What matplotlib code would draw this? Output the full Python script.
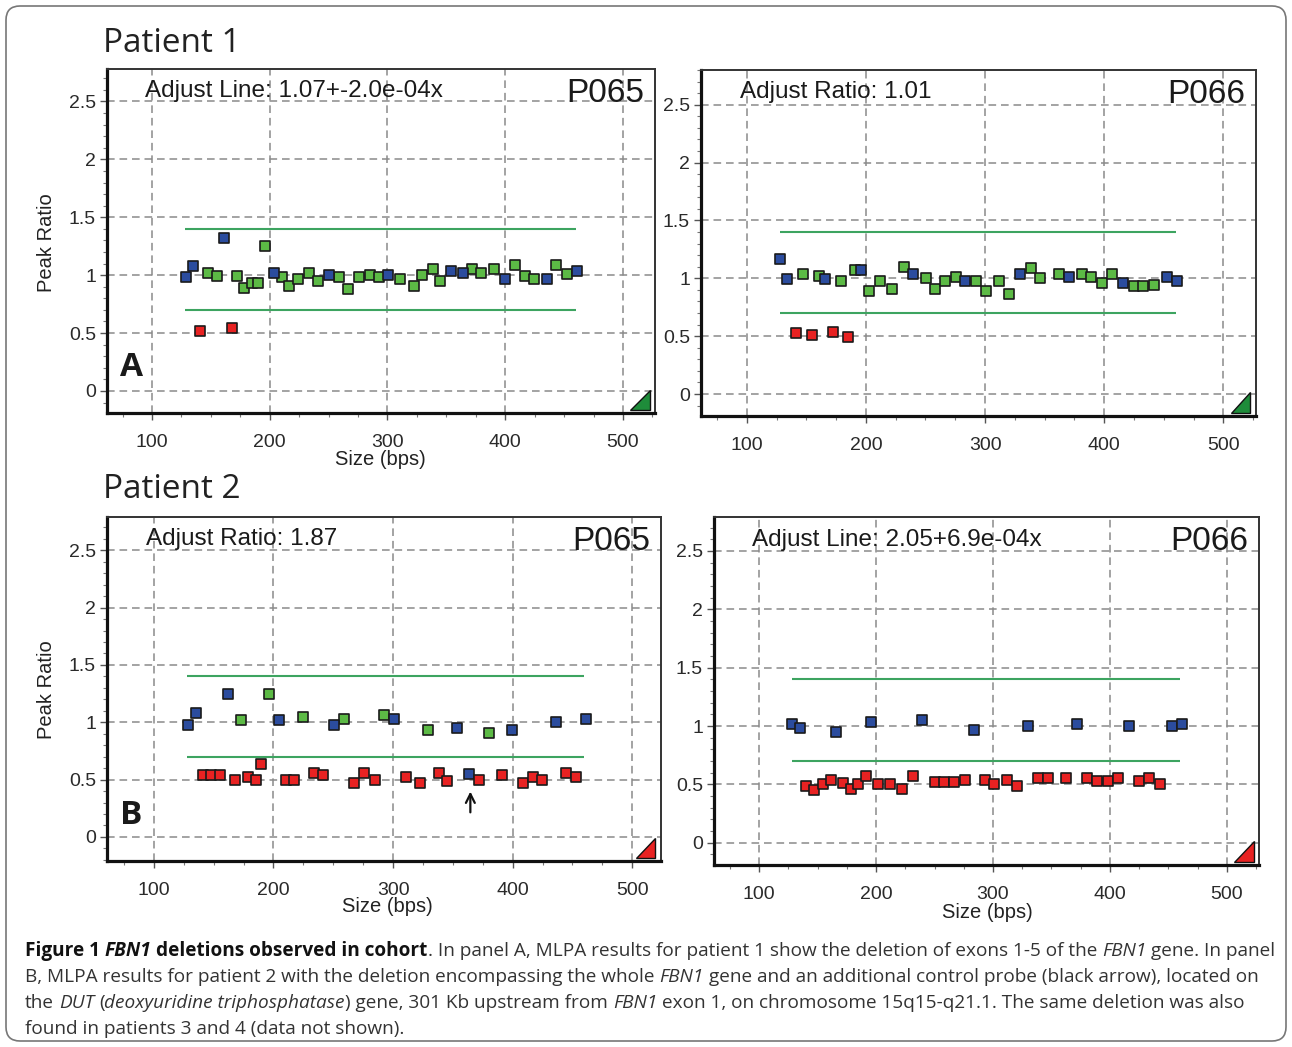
import matplotlib
matplotlib.use('Agg')
import matplotlib.pyplot as plt
from matplotlib.patches import Polygon, FancyBboxPatch
from matplotlib.ticker import FixedLocator, MultipleLocator
from matplotlib.transforms import IdentityTransform

plt.rcParams['lines.scale_dashes'] = False

W, H = 1292, 1047

# ---------------- data ----------------
x_ticks = [100, 200, 300, 400, 500]
y_ticks = [0, 0.5, 1, 1.5, 2, 2.5]
y_tick_labels = ['0', '0.5', '1', '1.5', '2', '2.5']
thresh_low, thresh_high = 0.7, 1.4
thresh_xmin, thresh_xmax = 128, 460

# Patient 1, P065
p1a_blue_x = [128.8, 135, 161.3, 203.7, 250.6, 300.6, 354, 363.8, 399.7, 435.9, 460.7]
p1a_blue_y = [0.98, 1.08, 1.32, 1.02, 1.0, 1.0, 1.035, 1.015, 0.965, 0.965, 1.035]
p1a_green_x = [147.2, 154.8, 172.3, 178.5, 184.6, 190.4, 196.3, 210.2, 216.4, 224.3, 233.3,
               241.3, 258.5, 266.1, 275.7, 285.3, 293.2, 310.4, 322.6, 329.1, 338.4, 344.7,
               371.5, 379.4, 390.1, 408.5, 417, 424.6, 443.5, 452.8]
p1a_green_y = [1.015, 0.99, 0.99, 0.89, 0.93, 0.93, 1.25, 0.98, 0.91, 0.965, 1.02,
               0.95, 0.98, 0.88, 0.98, 1.0, 0.98, 0.965, 0.91, 1.0, 1.05, 0.95,
               1.05, 1.02, 1.05, 1.09, 0.99, 0.965, 1.09, 1.01]
p1a_red_x = [140.7, 168]
p1a_red_y = [0.52, 0.54]

# Patient 1, P066
p1b_blue_x = [127.9, 134, 165.8, 196, 239.5, 283.4, 329.5, 370.8, 415.4, 453.1, 461.5]
p1b_blue_y = [1.17, 0.99, 0.99, 1.07, 1.035, 0.98, 1.035, 1.015, 0.96, 1.015, 0.98]
p1b_green_x = [146.9, 160.3, 178.7, 190.5, 202.4, 211.6, 222, 231.7, 250.8, 258.3, 266.7,
               275.3, 292.6, 301, 312.1, 319.9, 338.4, 346.2, 361.8, 381.1, 388.9, 398.2,
               406.5, 424.6, 432.7, 442]
p1b_green_y = [1.035, 1.02, 0.98, 1.07, 0.89, 0.98, 0.91, 1.10, 1.0, 0.91, 0.98,
               1.015, 0.98, 0.89, 0.98, 0.86, 1.09, 1.0, 1.035, 1.035, 1.015, 0.96,
               1.035, 0.93, 0.93, 0.945]
p1b_red_x = [141, 155, 172, 184.8]
p1b_red_y = [0.53, 0.51, 0.535, 0.49]

# Patient 2, P065
p2a_blue_x = [128.3, 135.3, 161.9, 204.6, 250.6, 300.8, 353.7, 363.5, 399.5, 436.1, 461.1]
p2a_blue_y = [0.98, 1.085, 1.25, 1.02, 0.98, 1.03, 0.95, 0.55, 0.93, 1.0, 1.03]
p2a_green_x = [173, 196.5, 224.5, 258.9, 292.8, 329.4, 379.9]
p2a_green_y = [1.02, 1.25, 1.05, 1.03, 1.065, 0.93, 0.91]
p2a_red_x = [141.1, 148, 155.2, 168, 179, 185.7, 189.6, 210.1, 216.8, 233.7, 241.4, 267,
             275.9, 285, 310.5, 322.7, 338.5, 345.2, 371.8, 390.7, 409, 416.7, 424.5,
             444.2, 453.3]
p2a_red_y = [0.54, 0.54, 0.54, 0.50, 0.52, 0.50, 0.64, 0.50, 0.50, 0.56, 0.54, 0.47,
             0.56, 0.50, 0.52, 0.47, 0.56, 0.49, 0.50, 0.54, 0.47, 0.52, 0.50,
             0.56, 0.52]
p2a_arrow_x = 364.6
p2a_arrow_y = (0.19, 0.42)

# Patient 2, P066
p2b_blue_x = [128.5, 134.8, 165.6, 195.8, 239.7, 283.7, 329.8, 371.5, 415.9, 453, 461.3]
p2b_blue_y = [1.02, 0.985, 0.95, 1.035, 1.05, 0.97, 1.0, 1.02, 1.0, 1.0, 1.02]
p2b_green_x = []
p2b_green_y = []
p2b_red_x = [140.5, 147, 154.7, 161.6, 171.9, 178.7, 185, 191.3, 202.1, 211.8, 222.1, 232,
             250.6, 258.5, 266.8, 276, 293.1, 301, 312.1, 320.1, 338.9, 346.6, 362.3,
             380.6, 388.9, 398.3, 406.5, 425.1, 433, 442.8]
p2b_red_y = [0.483, 0.456, 0.5, 0.535, 0.512, 0.465, 0.5, 0.57, 0.5, 0.5, 0.465, 0.57,
             0.517, 0.517, 0.517, 0.535, 0.535, 0.5, 0.535, 0.483, 0.553, 0.553, 0.553,
             0.553, 0.53, 0.53, 0.553, 0.53, 0.553, 0.5]

BLUE = '#2B4C9E'
GREEN = '#5CBA45'
RED = '#E82222'
LINE_GREEN = '#3DA460'

fig = plt.figure(figsize=(W / 100, H / 100), dpi=100)


def fx(px):
    return px / W


def fy(py):
    return 1 - py / H


panels = [
    dict(rect=(107, 69, 655, 413), xlim=(61.8, 527.2), ylim=(-0.19, 2.78),
         blue=(p1a_blue_x, p1a_blue_y), green=(p1a_green_x, p1a_green_y), red=(p1a_red_x, p1a_red_y),
         note='Adjust Line: 1.07+-2.0e-04x', probe='P065', tri='#1E8C3A'),
    dict(rect=(701, 70, 1256, 416), xlim=(61.6, 527.4), ylim=(-0.19, 2.80),
         blue=(p1b_blue_x, p1b_blue_y), green=(p1b_green_x, p1b_green_y), red=(p1b_red_x, p1b_red_y),
         note='Adjust Ratio: 1.01', probe='P066', tri='#1E8C3A'),
    dict(rect=(107, 517, 661, 861), xlim=(60.8, 524.0), ylim=(-0.21, 2.79),
         blue=(p2a_blue_x, p2a_blue_y), green=(p2a_green_x, p2a_green_y), red=(p2a_red_x, p2a_red_y),
         note='Adjust Ratio: 1.87', probe='P065', tri='#E82222'),
    dict(rect=(714, 517, 1259, 865), xlim=(61.5, 527.4), ylim=(-0.19, 2.79),
         blue=(p2b_blue_x, p2b_blue_y), green=(p2b_green_x, p2b_green_y), red=(p2b_red_x, p2b_red_y),
         note='Adjust Line: 2.05+6.9e-04x', probe='P066', tri='#E82222'),
]

SANS = ['Liberation Sans', 'DejaVu Sans']
axes = []
for p in panels:
    l, t, r, b = p['rect']
    ax = fig.add_axes([fx(l), fy(b), (r - l) / W, (b - t) / H])
    axes.append(ax)
    ax.set_xlim(*p['xlim'])
    ax.set_ylim(*p['ylim'])
    ax.xaxis.set_major_locator(FixedLocator(x_ticks))
    ax.xaxis.set_minor_locator(MultipleLocator(25))
    ax.yaxis.set_major_locator(FixedLocator(y_ticks))
    ax.yaxis.set_minor_locator(MultipleLocator(0.1))
    ax.set_yticklabels(y_tick_labels)
    ax.set_xticklabels([str(v) for v in x_ticks])
    for lab in ax.get_xticklabels() + ax.get_yticklabels():
        lab.set_fontfamily(SANS)
        lab.set_fontsize(14)
        lab.set_color('#2a2a2a')
    ax.tick_params(axis='x', which='major', direction='out', length=5, width=1, color='#555',
                   pad=10)
    ax.tick_params(axis='y', which='major', direction='out', length=5, width=1, color='#555',
                   pad=3)
    ax.tick_params(which='minor', direction='out', length=3, width=0.8, color='#777')
    ax.grid(True, which='major', color='#8a8a8a', linestyle=(0, (5.5, 3.5)), linewidth=1.1)
    ax.set_axisbelow(True)
    for side in ['left', 'bottom']:
        ax.spines[side].set_linewidth(2.3)
        ax.spines[side].set_color('#111')
    for side in ['top', 'right']:
        ax.spines[side].set_linewidth(1.4)
        ax.spines[side].set_color('#333')

    ax.hlines([thresh_low, thresh_high], thresh_xmin, thresh_xmax, colors=LINE_GREEN,
              linewidth=1.5, zorder=2)
    for key, col in (('green', GREEN), ('blue', BLUE), ('red', RED)):
        xs, ys = p[key]
        if len(xs):
            ax.scatter(xs, ys, marker='s', s=50, c=col, edgecolors='#1a1a1a',
                       linewidths=1.2, zorder=3)

    ax.text(0.07, 0.935, p['note'], transform=ax.transAxes, ha='left', va='center',
            fontsize=17.5, family=SANS, color='#1a1a1a')
    ax.text(0.98, 0.93, p['probe'], transform=ax.transAxes, ha='right', va='center',
            fontsize=24, family=SANS, color='#1a1a1a')
    tri = Polygon([(0.955, 0.008), (0.99, 0.008), (0.99, 0.068)], closed=True,
                  transform=ax.transAxes, facecolor=p['tri'], edgecolor='#111',
                  linewidth=1.0, zorder=5, clip_on=False)
    ax.add_patch(tri)

# arrow in patient 2 P065 panel
axes[2].annotate('', xy=(p2a_arrow_x, p2a_arrow_y[1]), xytext=(p2a_arrow_x, p2a_arrow_y[0]),
                 arrowprops=dict(arrowstyle='->', lw=1.6, color='#111', mutation_scale=16),
                 zorder=6)

# figure texts
HEAD = ['Open Sans', 'DejaVu Sans']
fig.text(fx(103), fy(44), 'Patient 1', fontsize=24, family=HEAD, color='#222',
         ha='left', va='center')
fig.text(fx(103), fy(490), 'Patient 2', fontsize=24, family=HEAD, color='#222',
         ha='left', va='center')
fig.text(fx(132), fy(367), 'A', fontsize=24, family=HEAD, weight='bold', color='#1a1a1a',
         ha='center', va='center')
fig.text(fx(131), fy(816), 'B', fontsize=24, family=HEAD, weight='bold', color='#1a1a1a',
         ha='center', va='center')
for (xc, yc) in [(46, 243), (46, 690)]:
    fig.text(fx(xc), fy(yc), 'Peak Ratio', fontsize=14.5, family=SANS, rotation=90,
             ha='center', va='center', color='#222')
for (xc, yc) in [(380, 460), (387, 907), (987, 912)]:
    fig.text(fx(xc), fy(yc), 'Size (bps)', fontsize=14.5, family=SANS,
             ha='center', va='center', color='#222')

# rounded border
border = FancyBboxPatch((6, H - 1041), 1280, 1035, boxstyle='round,pad=0,rounding_size=14',
                        transform=IdentityTransform(), fill=False, edgecolor='#777',
                        linewidth=1.2)
fig.patches.append(border)

# caption with mixed styles
caption_lines = [
    [("Figure 1 ", 'bold', 'normal'), ("FBN1", 'bold', 'italic'),
     (" deletions observed in cohort", 'bold', 'normal'),
     (". In panel A, MLPA results for patient 1 show the deletion of exons 1-5 of the ", 'normal', 'normal'),
     ("FBN1", 'normal', 'italic'), (" gene. In panel", 'normal', 'normal')],
    [("B, MLPA results for patient 2 with the deletion encompassing the whole ", 'normal', 'normal'),
     ("FBN1", 'normal', 'italic'),
     (" gene and an additional control probe (black arrow), located on", 'normal', 'normal')],
    [("the ", 'normal', 'normal'), ("DUT", 'normal', 'italic'), (" (", 'normal', 'normal'),
     ("deoxyuridine triphosphatase", 'normal', 'italic'),
     (") gene, 301 Kb upstream from ", 'normal', 'normal'), ("FBN1", 'normal', 'italic'),
     (" exon 1, on chromosome 15q15-q21.1. The same deletion was also", 'normal', 'normal')],
    [("found in patients 3 and 4 (data not shown).", 'normal', 'normal')],
]
line_y = [951, 977, 1003, 1029]
CAP_FAMILY = ['Open Sans', 'DejaVu Sans']

renderer = fig.canvas.get_renderer()


def text_w(s, size, weight, style):
    t = fig.text(0, 0, s, fontsize=size, family=CAP_FAMILY, weight=weight, style=style)
    w = t.get_window_extent(renderer).width
    t.remove()
    return w


def adv(s, size, weight, style):
    return text_w('|' + s + '|', size, weight, style) - text_w('||', size, weight, style)


base = 12.0
w1 = sum(adv(s, base, wt, st) for s, wt, st in caption_lines[0])
cap_size = base * 1247.0 / w1

for runs, yc in zip(caption_lines, line_y):
    x = 25.0
    for s, wt, st in runs:
        stripped = s.lstrip()
        lead = adv(s[:len(s) - len(stripped)], cap_size, wt, st) if len(stripped) != len(s) else 0
        body = stripped.rstrip()
        if body:
            fig.text(fx(x + lead), fy(yc), body, fontsize=cap_size, family=CAP_FAMILY,
                     weight=wt, style=st, ha='left', va='center',
                     color='#111' if wt == 'bold' else '#333')
        x += adv(s, cap_size, wt, st)

fig.savefig('out.png', dpi=100)
